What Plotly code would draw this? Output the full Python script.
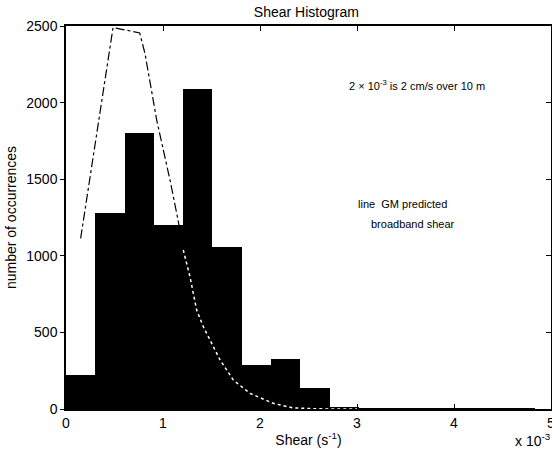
import numpy as np
import plotly.graph_objects as go

# Histogram data
bin_width = 0.302
counts = [220, 1280, 1800, 1200, 2090, 1060, 290, 325, 140, 14, 5, 4, 2, 1, 1, 2]
bin_centers = [bin_width * (i + 0.5) for i in range(len(counts))]

# GM predicted broadband shear line
gm_x = [0.151, 0.485, 0.76, 0.814, 0.935, 1.072, 1.155, 1.209, 1.278, 1.347, 1.416,
        1.485, 1.588, 1.725, 1.897, 2.137, 2.34, 2.6, 3.0]
gm_y = [1114, 2490, 2455, 2321, 1886, 1495, 1234, 1038, 864, 646, 537,
        450, 320, 189, 102, 37, 7, 1, 0]
split_x = 1.209

x_ticks = [0, 1, 2, 3, 4, 5]
y_ticks = [0, 500, 1000, 1500, 2000, 2500]

FONT = "Liberation Sans, Arial, Helvetica, sans-serif"

gx = np.array(gm_x)
gy = np.array(gm_y)
m1 = gx <= split_x
m2 = gx >= split_x

fig = go.Figure()
fig.add_trace(go.Bar(x=bin_centers, y=counts, width=bin_width,
                     marker=dict(color="black", line=dict(width=0)),
                     hoverinfo="x+y", showlegend=False))
fig.add_trace(go.Scatter(x=gx[m1], y=gy[m1], mode="lines",
                         line=dict(color="black", width=1.2, dash="dashdot"),
                         showlegend=False))
fig.add_trace(go.Scatter(x=gx[m2], y=gy[m2], mode="lines",
                         line=dict(color="white", width=1.5, dash="dot"),
                         showlegend=False))
# invisible trace to activate right-side axis
fig.add_trace(go.Scatter(x=[0], y=[0], yaxis="y2", mode="markers",
                         marker=dict(opacity=0), hoverinfo="skip", showlegend=False))

fig.update_layout(
    width=552, height=460,
    margin=dict(l=66, r=1, t=26, b=51, autoexpand=False),
    paper_bgcolor="white", plot_bgcolor="white",
    bargap=0,
    font=dict(family=FONT, color="black", size=14),
    title=dict(text="Shear Histogram", x=0.555, xanchor="center", y=0.985, yanchor="top",
               font=dict(size=14, family=FONT)),
    xaxis=dict(range=[0, 5], tickvals=x_ticks, ticktext=[str(v) for v in x_ticks],
               ticks="inside", ticklen=5, tickcolor="black", showline=True,
               linecolor="black", linewidth=1.5, mirror="ticks", showgrid=False,
               zeroline=False, tickfont=dict(size=14), automargin=False,
               ticklabeloverflow="allow",
               title=dict(text="Shear (s<sup>-1</sup>)", font=dict(size=14), standoff=6)),
    yaxis=dict(range=[0, 2500], tickvals=y_ticks, ticktext=[str(v) for v in y_ticks],
               ticks="outside", ticklen=4, tickcolor="black", showline=True,
               linecolor="black", linewidth=1.5, mirror=True, showgrid=False,
               zeroline=False, tickfont=dict(size=14), automargin=False,
               ticklabeloverflow="allow",
               title=dict(text="number of occurrences", font=dict(size=14), standoff=6)),
    yaxis2=dict(range=[0, 2500], overlaying="y", side="right", tickvals=y_ticks,
                showticklabels=False, ticks="inside", ticklen=5, tickcolor="black",
                showline=False, showgrid=False, zeroline=False, automargin=False),
    annotations=[
        dict(text="2 \u00d7 10<sup>-3</sup> is 2 cm/s over 10 m", x=347, y=85,
             xref="paper", yref="paper", showarrow=False, font=dict(size=11),
             xanchor="left", yanchor="middle"),
        dict(text="line  GM predicted", x=356, y=204, xref="paper", yref="paper",
             showarrow=False, font=dict(size=11), xanchor="left", yanchor="middle"),
        dict(text="broadband shear", x=369, y=224, xref="paper", yref="paper",
             showarrow=False, font=dict(size=11), xanchor="left", yanchor="middle"),
        dict(text="x 10<sup>-3</sup>", x=553, y=440, xref="paper", yref="paper",
             showarrow=False, font=dict(size=14), xanchor="right", yanchor="middle"),
    ],
)

# convert pixel positions of annotations to paper coordinates
pw = 552 - 66 - 1
ph = 460 - 26 - 51
for a in fig.layout.annotations:
    px, py = a.x, a.y
    a.x = (px - 66) / pw
    a.y = (460 - 51 - py) / ph

fig.write_html("out.html")
